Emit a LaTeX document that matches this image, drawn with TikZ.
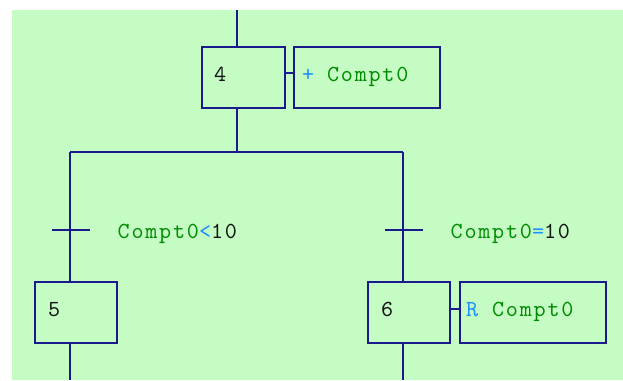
\documentclass[tikz,border=0pt]{standalone}
\usepackage{fontspec}
\newfontfamily\gfam{lmmono10-regular.otf}[LetterSpace=7.7]
\definecolor{bg}{RGB}{196,252,196}
\definecolor{ln}{RGB}{26,26,140}
\definecolor{gtxt}{RGB}{0,140,0}
\definecolor{btxt}{RGB}{30,144,255}
\definecolor{ktxt}{RGB}{20,20,20}
\newcommand\gfont{\gfam\fontsize{23}{23}\selectfont}
\tikzset{
  stepbox/.style={draw=ln, line width=1.5pt, inner sep=0pt, minimum height=61pt},
  wire/.style={draw=ln, line width=1.5pt},
  lbl/.style={inner sep=0pt, anchor=base west, font=\gfont},
}
\begin{document}
\begin{tikzpicture}[x=1pt,y=-1pt]
\fill[white] (0,0) rectangle (623,380);
\useasboundingbox (0,0) rectangle (623,380);
\fill[bg] (12,10) rectangle (623,380);
% steps and actions
\node[stepbox, minimum width=83pt] (s4) at (243.5,77.5) {};
\node[stepbox, minimum width=146pt] (a4) at (367,77.5) {};
\node[stepbox, minimum width=82pt] (s5) at (76,312.5) {};
\node[stepbox, minimum width=82pt] (s6) at (409,312.5) {};
\node[stepbox, minimum width=146pt] (a6) at (533,312.5) {};
% coordinates
\coordinate (top) at (237,10);
\coordinate (bl) at (70,152);
\coordinate (br) at (403,152);
\coordinate (t5) at (70,230);
\coordinate (t6) at (403,230);
\coordinate (e5) at (70,380);
\coordinate (e6) at (403,380);
\coordinate (l4) at (0,73);
\coordinate (l6) at (0,309);
% wires
\draw[wire] (top) -- (top |- s4.north);
\draw[wire] (top |- s4.south) -- (top |- bl);
\draw[wire] (bl) -- (br);
\draw[wire] (bl) -- (bl |- s5.north);
\draw[wire] (br) -- (br |- s6.north);
\draw[wire] ([xshift=-18pt]t5) -- ([xshift=20pt]t5);
\draw[wire] ([xshift=-18pt]t6) -- ([xshift=20pt]t6);
\draw[wire] (e5 |- s5.south) -- (e5);
\draw[wire] (e6 |- s6.south) -- (e6);
\draw[wire] (s4.east |- l4) -- (a4.west |- l4);
\draw[wire] (s6.east |- l6) -- (a6.west |- l6);
% texts
\node[lbl] (n4) at (214,81) {\color{ktxt}4};
\node[lbl] (n5) at (48,316) {\color{ktxt}5};
\node[lbl] (n6) at (381,316) {\color{ktxt}6};
\node[lbl] (act4) at (302,81) {\color{btxt}+\hspace{-1pt} \color{gtxt}Compt0};
\node[lbl] (act6) at (466,316) {\color{btxt}R \color{gtxt}Compt0};
\node[lbl] (c5) at (117.5,238) {\color{gtxt}Compt0\color{btxt}<\color{ktxt}10};
\node[lbl] (c6) at (450.5,238) {\color{gtxt}Compt0\color{btxt}=\color{ktxt}10};
\end{tikzpicture}
\end{document}
